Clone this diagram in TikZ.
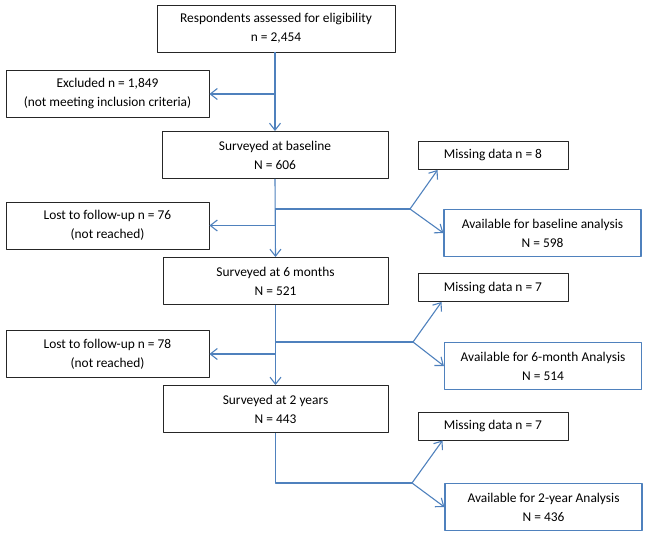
\documentclass[tikz,border=0pt]{standalone}
\usepackage{fontspec}
\setmainfont{Carlito}
\usetikzlibrary{arrows.meta}
\definecolor{flowblue}{RGB}{79,129,189}
\begin{document}
\begin{tikzpicture}[x=1pt, y=-1pt, line join=round, font=\fontsize{13.4}{19}\selectfont,
		>={Straight Barb[length=7pt,width=11pt]},
		box/.style={draw=black!85, line width=0.9pt, align=center, inner sep=0pt, minimum height=47pt},
		bluebox/.style={box, draw=flowblue, line width=1.2pt, minimum width=197pt},
		smallbox/.style={box, minimum width=150pt, minimum height=28pt},
		link/.style={draw=flowblue, line width=1.1pt}]
			\useasboundingbox (0,0) rectangle (647,537);
			% main column
			\node[box, minimum width=238pt] (elig) at (276,28.5) {Respondents assessed for eligibility\\n = 2,454};
			\node[box, minimum width=226pt] (base) at (275,155) {Surveyed at baseline\\N = 606};
			\node[box, minimum width=225pt] (six) at (275.5,281) {Surveyed at 6 months\\N = 521};
			\node[box, minimum width=225pt] (two) at (275.5,409) {Surveyed at 2 years\\N = 443};
			% left column
			\node[box, minimum width=203pt] (excl) at (107.5,94) {Excluded n = 1,849\\(not meeting inclusion criteria)};
			\node[box, minimum width=203pt] (lost1) at (107.5,225.5) {Lost to follow-up n = 76\\(not reached)};
			\node[box, minimum width=203pt] (lost2) at (107.5,354) {Lost to follow-up n = 78\\(not reached)};
			% right column
			\node[smallbox] (miss1) at (493,155.5) {Missing data n = 8};
			\node[bluebox] (avail1) at (542.5,233) {Available for baseline analysis\\N = 598};
			\node[smallbox] (miss2) at (493,287.5) {Missing data n = 7};
			\node[bluebox] (avail2) at (543,366) {Available for 6-month Analysis\\N = 514};
			\node[smallbox] (miss3) at (493,426) {Missing data n = 7};
			\node[bluebox] (avail3) at (543.5,507) {Available for 2-year Analysis\\N = 436};
			% branch points
			\coordinate (b1) at (410,209);
			\coordinate (b2) at (413,342);
			\coordinate (b3) at (412,483);
			% connectors
			\draw[link,->] (base.north |- elig.south) -- (base.north);
			\draw[link,->] (base.north |- excl.east) -- (excl.east);
			\draw[link,->] (base.south) -- (six.north);
			\draw[link,->] (six.north |- lost1.east) -- (lost1.east);
			\draw[link] (base.south |- b1) -- (b1);
			\draw[link,->] (b1) -- ([xshift=20pt]miss1.south west);
			\draw[link,->] (b1) -- (avail1.west);
			\draw[link,->] (six.south) -- (two.north);
			\draw[link,->] (two.north |- lost2.east) -- (lost2.east);
			\draw[link] (six.south |- b2) -- (b2);
			\draw[link,->] (b2) -- ([xshift=24pt]miss2.south west);
			\draw[link,->] (b2) -- (avail2.west);
			\draw[link] (two.south) |- (b3);
			\draw[link,->] (b3) -- ([xshift=25pt]miss3.south west);
			\draw[link,->] (b3) -- (avail3.west);
		\end{tikzpicture}
\end{document}
